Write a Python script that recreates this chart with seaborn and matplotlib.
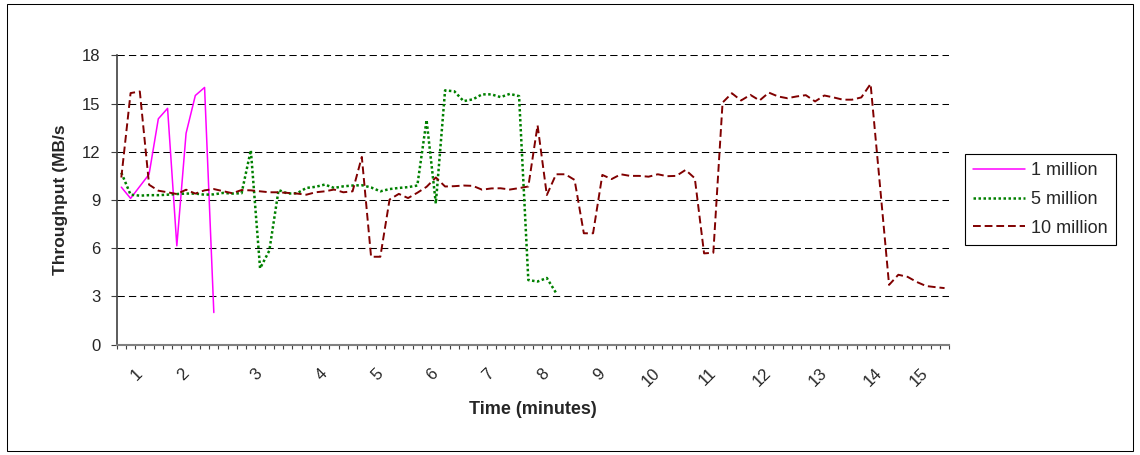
import numpy as np
import pandas as pd
import seaborn as sns
import matplotlib.pyplot as plt
from matplotlib.patches import Rectangle

sns.set_style("white")
plt.rcParams['font.family'] = ['Liberation Sans', 'DejaVu Sans']
plt.rcParams['font.size'] = 12

# throughput (MB/s) per sample, one list per run size
one_million = [9.8, 9.1, 9.85, 10.6, 14.05, 14.7, 6.15, 13.15, 15.5, 16.0, 2.0]
five_million = [10.7, 9.33, 9.27, 9.3, 9.3, 9.33, 9.37, 9.4, 9.4, 9.33,
                9.35, 9.44, 9.4, 9.42, 12.1, 4.75, 5.85, 9.62, 9.4, 9.42,
                9.75, 9.82, 9.96, 9.75, 9.85, 9.9, 9.92, 9.78, 9.54, 9.68,
                9.75, 9.8, 9.9, 13.97, 8.78, 15.82, 15.76, 15.15, 15.26, 15.57,
                15.57, 15.4, 15.6, 15.46, 4.02, 3.93, 4.15, 3.22]
ten_million = [10.4, 15.65, 15.75, 9.95, 9.58, 9.48, 9.37, 9.64, 9.4, 9.6,
               9.68, 9.55, 9.42, 9.62, 9.6, 9.54, 9.48, 9.48, 9.44, 9.4,
               9.33, 9.48, 9.54, 9.65, 9.48, 9.54, 11.68, 5.47, 5.47, 9.03,
               9.38, 9.12, 9.45, 9.82, 10.4, 9.84, 9.86, 9.9, 9.88, 9.64,
               9.72, 9.73, 9.65, 9.74, 9.84, 13.65, 9.31, 10.6, 10.6, 10.25,
               6.93, 6.93, 10.56, 10.3, 10.6, 10.5, 10.5, 10.45, 10.6, 10.48,
               10.5, 10.87, 10.35, 5.68, 5.72, 15.06, 15.64, 15.19, 15.54, 15.19,
               15.68, 15.44, 15.33, 15.44, 15.52, 15.13, 15.5, 15.38, 15.24, 15.24,
               15.38, 16.22, 10.0, 3.72, 4.35, 4.22, 3.9, 3.65, 3.58, 3.52]

n_samples = 90
minute_pos = [2, 7, 15, 22, 28, 34, 40, 46, 52, 58, 64, 70, 76, 82, 87]
minute_labels = [str(m) for m in range(1, 16)]

fig = plt.figure(figsize=(11.4, 4.55), dpi=100)
fig.patches.append(Rectangle((7 / 1140, 1 - 451 / 455), 1126 / 1140, 447 / 455,
                             transform=fig.transFigure, fill=False,
                             edgecolor='black', linewidth=0.75))
ax = fig.add_axes([116.7 / 1140, 1 - 344.7 / 455, 832.5 / 1140, 289.4 / 455])

series = [
    ("1 million", one_million, "#FF00FF", "-", 1.1),
    ("5 million", five_million, "#008000", (0, (1, 1)), 1.8),
    ("10 million", ten_million, "#800000", (0, (4, 2)), 1.4),
]
for name, vals, color, ls, lw in series:
    df = pd.DataFrame({"sample": np.arange(len(vals)), "throughput": vals})
    sns.lineplot(data=df, x="sample", y="throughput", ax=ax, color=color,
                 linestyle=ls, linewidth=lw, label=name)

ax.set_xlim(-0.5, n_samples - 0.5)
ax.set_ylim(0, 18)
ax.set_yticks(range(0, 19, 3))
ax.yaxis.grid(True, color='black', linestyle=(0, (7, 4)), linewidth=0.75)
ax.set_axisbelow(True)

ax.set_xticks(minute_pos)
ax.set_xticklabels(minute_labels, rotation=45, ha='right', va='center',
                   rotation_mode='anchor')
ax.set_xticks(np.arange(-0.5, n_samples, 1), minor=True)
ax.tick_params(axis='x', which='major', length=0, pad=19)
ax.tick_params(axis='x', which='minor', bottom=True, length=3, width=0.8,
               color='#404040', direction='out')
ax.tick_params(axis='y', left=True, length=4.5, width=0.8, color='#404040',
               direction='out', pad=7)

for side in ['top', 'right']:
    ax.spines[side].set_visible(False)
ax.spines['left'].set_color('#404040')
ax.spines['bottom'].set_color('#808080')
ax.spines['left'].set_linewidth(1.2)
ax.spines['bottom'].set_linewidth(1.5)

ax.set_xlabel('Time (minutes)', fontweight='bold', fontsize=13)
ax.set_ylabel('Throughput (MB/s', fontweight='bold', fontsize=12.5)
ax.xaxis.set_label_coords(0.5, -0.195)
ax.yaxis.set_label_coords(-0.058, 0.5)

leg = ax.legend(loc='upper left', bbox_to_anchor=(965 / 1140, 1 - 154 / 455),
                bbox_transform=fig.transFigure, fancybox=False, framealpha=1,
                edgecolor='black', fontsize=13, handlelength=2.9,
                handletextpad=0.3, labelspacing=0.65, borderpad=0.45,
                borderaxespad=0)
leg.get_frame().set_linewidth(0.8)

fig.savefig('out.png', dpi=100)
